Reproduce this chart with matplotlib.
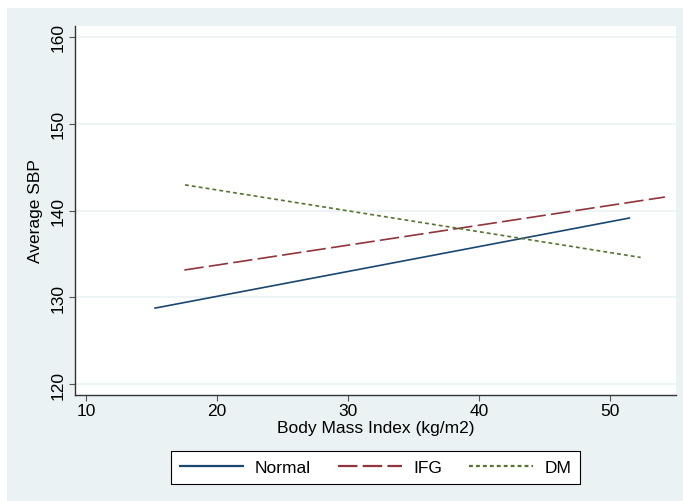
import matplotlib
matplotlib.use("Agg")
import matplotlib.pyplot as plt
from matplotlib.patches import Rectangle

plt.rcParams['font.family'] = ['Liberation Sans', 'DejaVu Sans']
plt.rcParams['lines.scale_dashes'] = False

# Data (fitted lines: BMI vs average SBP)
groups = ["Normal", "IFG", "DM"]
normal_x = [15.2, 51.5]
normal_y = [128.75, 139.15]
ifg_x = [17.5, 54.15]
ifg_y = [133.15, 141.55]
dm_x = [17.55, 52.3]
dm_y = [142.95, 134.6]
xticks = [10, 20, 30, 40, 50]
yticks = [120, 130, 140, 150, 160]

W, H = 683, 502
fig = plt.figure(figsize=(W / 100, H / 100), dpi=100, facecolor='white')
bg = '#EAF2F3'
rect = Rectangle((7 / W, 0), 1 - 7 / W, 1 - 9 / H, transform=fig.transFigure,
                 facecolor=bg, edgecolor='none', zorder=-10)
fig.add_artist(rect)

ax = fig.add_axes([75 / W, 1 - 396 / H, (676 - 75) / W, (396 - 27) / H])
ax.set_zorder(1)
ax.set_facecolor('white')

navy = '#1A476F'
maroon = '#90353B'
green = '#55752F'

ax.plot(normal_x, normal_y, color=navy, lw=1.2, label=groups[0], solid_capstyle='butt')
ax.plot(ifg_x, ifg_y, color=maroon, lw=1.2, dashes=(14.0, 3.8), label=groups[1])
ax.plot(dm_x, dm_y, color=green, lw=1.2, dashes=(2.8, 2.2), label=groups[2])

ax.set_xlim(9.16, 55.0)
ax.set_ylim(118.77, 161.23)
ax.set_xticks(xticks)
ax.set_yticks(yticks)
ax.grid(axis='y', color=bg, lw=1.2)
ax.set_axisbelow(True)

for s in ['top', 'right']:
    ax.spines[s].set_visible(False)
for s in ['left', 'bottom']:
    ax.spines[s].set_color('#333333')
    ax.spines[s].set_linewidth(1.0)

ax.tick_params(axis='both', direction='out', length=4, width=0.8, color='#555555',
               labelsize=12.5, labelcolor='black')
ax.tick_params(axis='x', pad=2)
ax.tick_params(axis='y', pad=3)
for lab in ax.get_yticklabels():
    lab.set_rotation(90)
    lab.set_va('center')

ax.set_xlabel('Body Mass Index (kg/m2)', fontsize=12.5, labelpad=1)
ax.set_ylabel('Average SBP', fontsize=12.5, labelpad=5)

leg = fig.legend(loc='center', bbox_to_anchor=((172 + 579) / 2 / W, 1 - 468.7 / H),
                 ncol=3, frameon=True, fancybox=False, fontsize=12.5, framealpha=1,
                 handlelength=3.7, handletextpad=0.65, columnspacing=1.55,
                 borderpad=0.5, borderaxespad=0)
leg.get_frame().set_edgecolor('black')
leg.get_frame().set_linewidth(0.8)
leg.get_frame().set_facecolor('white')
leg.set_zorder(2)
for ln in leg.get_lines():
    ln.set_linewidth(1.6)

fig.savefig('out.png', dpi=100, facecolor=fig.get_facecolor())
